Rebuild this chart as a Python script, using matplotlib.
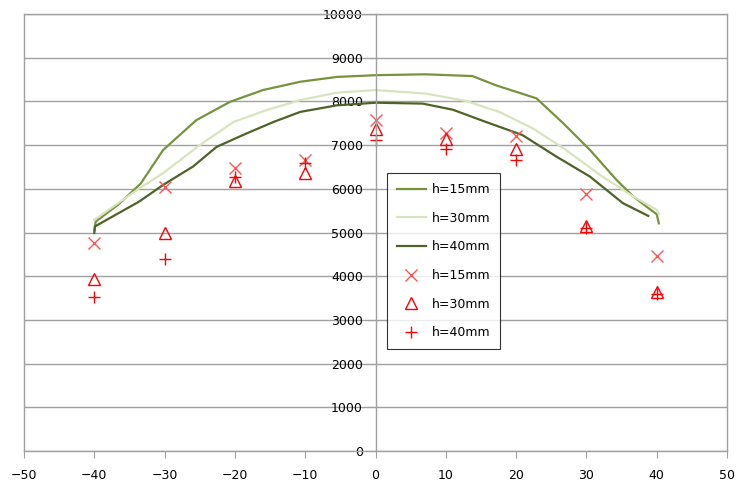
import numpy as np
import matplotlib.pyplot as plt

# posiciones de medicion
x_med = [-40, -30, -20, -10, 0, 10, 20, 30, 40]

# valores medidos (marcadores)
med_15 = [4770, 6040, 6470, 6660, 7570, 7270, 7200, 5880, 4470]
med_30 = [3940, 5000, 6180, 6360, 7380, 7130, 6920, 5140, 3650]
med_40 = [3530, 4390, 6260, 6580, 7120, 6900, 6670, 5100, 3590]

# curvas calculadas
x_15 = [-40, -39.8, -36.5, -33.4, -30.2, -25.5, -20.7, -16, -10.7, -5.5, 0, 3.6, 7.1, 13.8,
        17.1, 22.9, 26.7, 30.5, 34.3, 36.7, 38.8, 40, 40.3]
y_15 = [5050, 5250, 5650, 6120, 6890, 7570, 7990, 8260, 8450, 8560, 8600, 8610, 8620, 8580,
        8370, 8070, 7500, 6890, 6200, 5820, 5560, 5420, 5210]

x_30 = [-40, -33.6, -30.2, -25, -20.2, -15.5, -10.7, -5.5, 0, 7.1, 12.9, 17.6, 22.4, 27.1,
        31.9, 36.7, 40, 40.3]
y_30 = [5290, 6010, 6360, 7000, 7530, 7800, 8030, 8200, 8260, 8180, 8010, 7760, 7380, 6890,
        6320, 5820, 5520, 5420]

x_40 = [-40, -39.9, -33.6, -30.2, -25.95, -22.6, -18.3, -14.5, -10.7, -5.5, 0, 6.7, 11,
        15.7, 20.9, 25.7, 30.5, 35.2, 38.8]
y_40 = [4990, 5140, 5710, 6090, 6510, 6960, 7270, 7530, 7760, 7910, 7970, 7950, 7810,
        7530, 7230, 6740, 6280, 5670, 5380]

gris = '#a0a0a0'

fig = plt.figure(figsize=(7.36, 4.88), dpi=100)
ax = fig.add_axes([0.0326, 0.0758, 0.9552, 0.8955])

ax.plot(x_15, y_15, color='#77933C', lw=1.6, label='h=15mm')
ax.plot(x_30, y_30, color='#D7E4BD', lw=1.6, label='h=30mm')
ax.plot(x_40, y_40, color='#4F6228', lw=1.6, label='h=40mm')

ax.plot(x_med, med_15, ls='none', marker='x', ms=9, mew=1.0, color='#ff5555', label='h=15mm')
ax.plot(x_med, med_30, ls='none', marker='^', ms=8, mew=1.0, mfc='none', mec='red', label='h=30mm')
ax.plot(x_med, med_40, ls='none', marker='+', ms=9, mew=1.0, color='red', label='h=40mm')

ax.set_xlim(-50, 50)
ax.set_ylim(0, 10000)
ax.set_xticks(np.arange(-50, 51, 10))
ax.set_yticks(np.arange(0, 10001, 1000))

ax.grid(True, axis='y', color=gris, lw=1)
ax.set_axisbelow(True)

# eje y en x=0
ax.spines['left'].set_position(('data', 0))
for s in ['left', 'right', 'top', 'bottom']:
    ax.spines[s].set_color(gris)
    ax.spines[s].set_linewidth(1)
ax.axvline(-50, color=gris, lw=1, clip_on=False)

ax.tick_params(axis='x', direction='out', length=5, color=gris, labelsize=9, pad=8)
ax.tick_params(axis='y', direction='out', length=4, color=gris, labelsize=9, pad=5)

leg = ax.legend(loc='upper left', bbox_to_anchor=(0.516, 0.636), borderaxespad=0,
                fontsize=9, frameon=True, fancybox=False, edgecolor='black',
                handlelength=2.3, handletextpad=0.5, labelspacing=1.25, borderpad=0.8)
leg.get_frame().set_linewidth(0.8)

fig.savefig('out.png', dpi=100)
